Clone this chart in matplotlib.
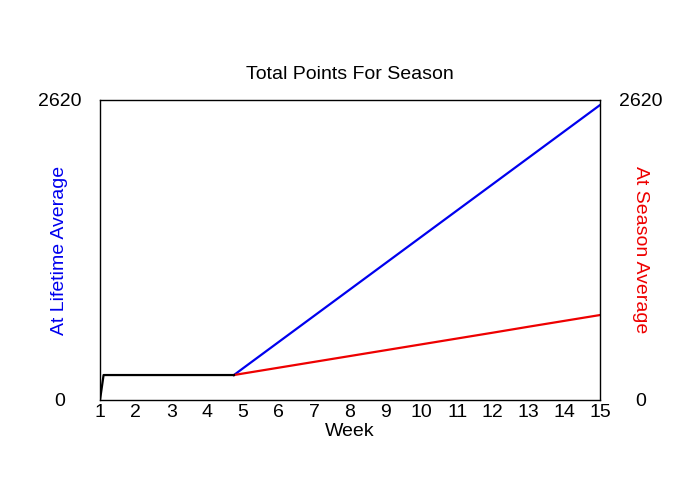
import matplotlib
matplotlib.use("Agg")
import matplotlib.pyplot as plt

plt.rcParams['font.family'] = ['Liberation Sans', 'DejaVu Sans']

# points before the two projections split
early_weeks = [1, 1.1, 4.75]
early_points = [0, 218, 218]

# projections from week ~4.75 onwards
proj_weeks = [4.75, 5, 6, 7, 8, 9, 10, 11, 12, 13, 14, 15]
lifetime_avg = [218, 276, 506, 736, 966, 1196, 1426, 1656, 1886, 2116, 2346, 2576]
season_avg = [218, 231, 282, 333, 384, 435, 486, 537, 588, 640, 691, 742]

week_ticks = list(range(1, 16))
y_max = 2620
fs = 14

fig = plt.figure(figsize=(7, 5), dpi=100)
ax = fig.add_axes([100 / 700, 0.2, 500 / 700, 0.6])

ax.plot(proj_weeks, lifetime_avg, color='#0000ee', lw=1.6)
ax.plot(proj_weeks, season_avg, color='#ee0000', lw=1.6)
ax.plot(early_weeks, early_points, color='black', lw=1.6)

ax.set_xlim(1, 15)
ax.set_ylim(0, y_max)
ax.set_xticks(week_ticks)
ax.set_xticklabels([str(w) for w in week_ticks], fontsize=fs)
ax.tick_params(axis='x', length=0, pad=3)

ax.set_yticks([0, y_max])
ax.set_yticklabels(['0', str(y_max)], fontsize=fs)
ax.tick_params(axis='y', length=0, pad=29, labelleft=True, labelright=True)
for t in ax.yaxis.get_major_ticks():
    t.label1.set_ha('center')
    t.label2.set_ha('center')

for sp in ax.spines.values():
    sp.set_linewidth(1.0)

ax.set_title('Total Points For Season', fontsize=fs, pad=15)
ax.set_xlabel('Week', fontsize=fs, labelpad=1)
ax.set_ylabel('At Lifetime Average', fontsize=fs, color='#0000ee', va='center')
ax.yaxis.set_label_coords(-0.08, 0.5)

ax.text(1.08, 0.5, 'At Season Average', transform=ax.transAxes, rotation=-90,
        ha='center', va='center', fontsize=fs, color='#ee0000')

fig.savefig('out.png', dpi=100)
